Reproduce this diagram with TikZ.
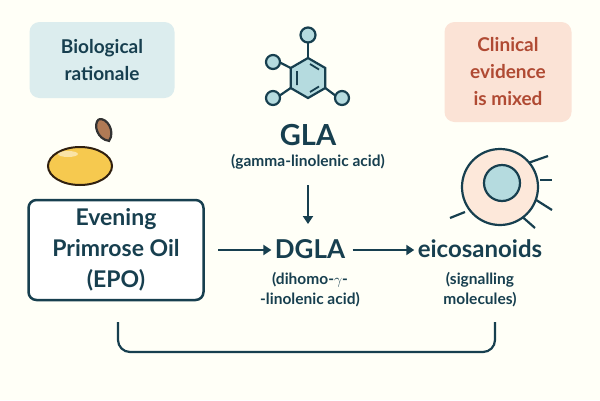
\documentclass[tikz,border=0pt]{standalone}
\usepackage{fontspec}
\setmainfont{Lato}
\newcommand{\med}{\bfseries}
\usetikzlibrary{arrows.meta}
\definecolor{dk}{HTML}{173F4F}
\definecolor{tealbg}{HTML}{DCEDEE}
\definecolor{peach}{HTML}{FBE3D6}
\definecolor{red}{HTML}{B04A33}
\definecolor{lt}{HTML}{B5DBDF}
\definecolor{cellc}{HTML}{FDE8DA}
\definecolor{yel}{HTML}{F6C94F}
\definecolor{brn}{HTML}{B07A55}
\begin{document}
\begin{tikzpicture}[x=1pt,y=-1pt,
  lbl/.style={text=dk,align=center,font=\med\fontsize{24}{25}\selectfont},
  sub/.style={text=dk,align=center,font=\med\fontsize{15.5}{20}\selectfont},
  arr/.style={dk,line width=2.2pt,-{Stealth[length=8pt,width=10pt,inset=0pt]}},
  ic/.style={draw=dk,line width=2.2pt}]
\useasboundingbox (0,0) rectangle (600,400);
\fill[white!97!yellow] (0,0) rectangle (600,400);
\node[fill=tealbg,rounded corners=10pt,minimum width=145pt,minimum height=76pt,text=dk,align=center,font=\med\fontsize{19}{27}\selectfont] (bio) at (102,60) {Biological\\rationale};
\node[fill=peach,rounded corners=10pt,minimum width=127pt,minimum height=100pt,text=red,align=center,font=\med\fontsize{19}{27}\selectfont] (clin) at (508,72) {Clinical\\evidence\\is mixed};
% molecule
\begin{scope}[ic]
\draw (308,58) -- (308,42);
\draw (290.7,68) -- (279,62);
\draw (290.7,88) -- (279,96);
\draw (325.3,88) -- (336,96);
\filldraw[fill=lt] (308,58) -- (325.3,68) -- (325.3,88) -- (308,98) -- (290.7,88) -- (290.7,68) -- cycle;
\draw[line width=1.8pt] (297,71) -- (297,85) (310,64) -- (319,69.5) (319,86.5) -- (310,92);
\filldraw[fill=lt] (308,35) circle (7.5) (273,62) circle (7) (273,98) circle (7) (342,98) circle (7);
\end{scope}
\node[text=dk,font=\med\fontsize{29}{30}\selectfont] (gla) at (308,135) {GLA};
\node[sub] (glas) at (308,162) {(gamma-linolenic acid)};
\node[draw=dk,line width=2.5pt,fill=white,rounded corners=8pt,minimum width=175pt,minimum height=100pt,lbl,font=\med\fontsize{23}{31}\selectfont] (epo) at (116,250) {Evening\\Primrose Oil\\(EPO)};
\node[lbl,font=\med\fontsize{26}{27}\selectfont] (dgla) at (310,249) {DGLA};
\node[sub] (dglas) at (310,290) {(dihomo-$\gamma$-\\-linolenic acid)};
\node[lbl] (eic) at (480,249) {eicosanoids};
\node[sub] (eics) at (480,290) {(signalling\\molecules)};
\coordinate (g1) at (308,185);
\coordinate (g2) at (308,224);
\draw[arr] (g1) -- (g2);
\draw[arr] (218,250) -- (dgla.west |- 0,250);
\draw[arr] (dgla.east |- 0,250) ++(4,0) -- (eic.west |- 0,250);
\coordinate (b1) at (118,322); \coordinate (b2) at (495,322);
\draw[dk,line width=2.2pt,rounded corners=12pt] (b1) |- (306,352) -| (b2);
% capsule and seed
\filldraw[draw=black!75!brown,line width=2pt,fill=yel] (80,166) ellipse (32 and 19);
\fill[white,opacity=.5] (68,154) ellipse (10 and 3);
\filldraw[draw=black!80,line width=2.2pt,fill=brn,rotate around={25:(104,130)}] (104,118) .. controls (112,120) and (114,136) .. (104,142) .. controls (94,136) and (96,120) .. (104,118);
% cell
\begin{scope}[ic]
\draw (465,212) -- (450,218);
\draw (528,163) -- (548,156);
\draw (540,180) -- (552,180);
\draw (533,198) -- (552,210);
\draw (518,213) -- (535,228);
\filldraw[fill=cellc] (500,187) circle (38);
\filldraw[fill=lt] (502,183) circle (18);
\end{scope}
\end{tikzpicture}
\end{document}
